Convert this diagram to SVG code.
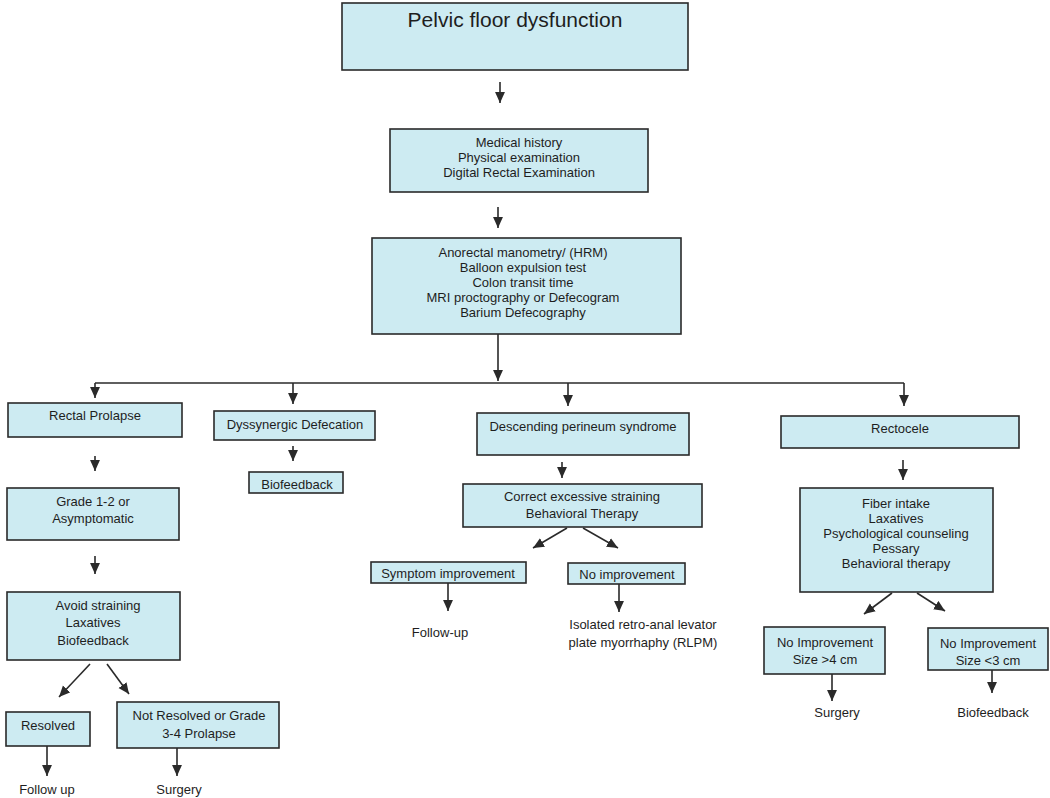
<svg xmlns="http://www.w3.org/2000/svg" width="1050" height="798" viewBox="0 0 1050 798">
<style>
.b{fill:#cdebf2;stroke:#2a2a2a;stroke-width:1.6}
text{font-family:"Liberation Sans",Arial,sans-serif;font-size:13px;fill:#1e1e1e;text-anchor:middle}
.c{fill:none;stroke:#2a2a2a;stroke-width:1.6}
.t{font-size:21px}
</style>
<defs>
<marker id="ah" viewBox="0 0 10 10" refX="10" refY="5" markerWidth="11" markerHeight="11" orient="auto" markerUnits="userSpaceOnUse"><path d="M0,0.5 L10,5 L0,9.5 z" fill="#2a2a2a"/></marker>
</defs>
<rect width="1050" height="798" fill="#ffffff"/>
<g id="connectors">
<path class="c" marker-end="url(#ah)" d="M500,82 L500,103"/>
<path class="c" marker-end="url(#ah)" d="M498,207 L498,228"/>
<path class="c" marker-end="url(#ah)" d="M498,334 L498,381"/>
<path class="c" d="M95,383 L904,383"/>
<path class="c" marker-end="url(#ah)" d="M95,383 L95,398"/>
<path class="c" marker-end="url(#ah)" d="M293,383 L293,404"/>
<path class="c" marker-end="url(#ah)" d="M568,383 L568,406"/>
<path class="c" marker-end="url(#ah)" d="M904,383 L904,406"/>
<path class="c" marker-end="url(#ah)" d="M95,456 L95,471"/>
<path class="c" marker-end="url(#ah)" d="M95,556 L95,574"/>
<path class="c" marker-end="url(#ah)" d="M293,446 L293,461"/>
<path class="c" marker-end="url(#ah)" d="M90,664 L59,697"/>
<path class="c" marker-end="url(#ah)" d="M107,664 L129,694"/>
<path class="c" marker-end="url(#ah)" d="M47,746 L47,776"/>
<path class="c" marker-end="url(#ah)" d="M177,748 L177,776"/>
<path class="c" marker-end="url(#ah)" d="M562,462 L562,478"/>
<path class="c" marker-end="url(#ah)" d="M567,528 L533,548"/>
<path class="c" marker-end="url(#ah)" d="M583,528 L618,548"/>
<path class="c" marker-end="url(#ah)" d="M448,583 L448,611"/>
<path class="c" marker-end="url(#ah)" d="M619,584 L619,612"/>
<path class="c" marker-end="url(#ah)" d="M903,460 L903,480"/>
<path class="c" marker-end="url(#ah)" d="M892,593 L864,614"/>
<path class="c" marker-end="url(#ah)" d="M917,593 L945,611"/>
<path class="c" marker-end="url(#ah)" d="M832,674 L832,701"/>
<path class="c" marker-end="url(#ah)" d="M992,670 L992,693"/>
</g>
<g id="n-pelvic"><rect class="b" x="342" y="3" width="346" height="67"/><text class="t" x="515" y="27">Pelvic floor dysfunction</text></g>
<g id="n-history"><rect class="b" x="390" y="129" width="258" height="63"/><text x="519" y="147">Medical history</text><text x="519" y="162">Physical examination</text><text x="519" y="177">Digital Rectal Examination</text></g>
<g id="n-tests"><rect class="b" x="372" y="238" width="309" height="96"/><text x="523" y="257">Anorectal manometry/ (HRM)</text><text x="523" y="272">Balloon expulsion test</text><text x="523" y="287">Colon transit time</text><text x="523" y="302">MRI proctography or Defecogram</text><text x="523" y="317">Barium Defecography</text></g>
<g id="n-rectal"><rect class="b" x="8" y="403" width="174" height="34"/><text x="95" y="420">Rectal Prolapse</text></g>
<g id="n-dyss"><rect class="b" x="214" y="411" width="161" height="29"/><text x="295" y="429">Dyssynergic Defecation</text></g>
<g id="n-biofb1"><rect class="b" x="249" y="472" width="94" height="21"/><text x="297" y="489">Biofeedback</text></g>
<g id="n-grade"><rect class="b" x="7" y="488" width="172" height="52"/><text x="93" y="506">Grade 1-2  or</text><text x="93" y="523">Asymptomatic</text></g>
<g id="n-avoid"><rect class="b" x="7" y="592" width="173" height="68"/><text x="98" y="610">Avoid straining</text><text x="93" y="627">Laxatives</text><text x="93" y="645">Biofeedback</text></g>
<g id="n-resolved"><rect class="b" x="6" y="712" width="84" height="34"/><text x="48" y="730">Resolved</text></g>
<g id="n-notres"><rect class="b" x="117" y="702" width="162" height="46"/><text x="199" y="720">Not Resolved or Grade</text><text x="199" y="738">3-4 Prolapse</text></g>
<g id="n-followup1"><text x="47" y="794">Follow up</text></g>
<g id="n-surgery1"><text x="179" y="794">Surgery</text></g>
<g id="n-desc"><rect class="b" x="477" y="413" width="212" height="42"/><text x="583" y="431">Descending perineum syndrome</text></g>
<g id="n-correct"><rect class="b" x="463" y="484" width="239" height="43"/><text x="582" y="501">Correct excessive straining</text><text x="582" y="518">Behavioral Therapy</text></g>
<g id="n-symptom"><rect class="b" x="371" y="562" width="155" height="21"/><text x="448" y="578">Symptom improvement</text></g>
<g id="n-noimp"><rect class="b" x="568" y="563" width="117" height="21"/><text x="627" y="579">No improvement</text></g>
<g id="n-followup2"><text x="440" y="637">Follow-up</text></g>
<g id="n-isolated"><text x="643" y="629">Isolated retro-anal levator</text><text x="643" y="647">plate myorrhaphy (RLPM)</text></g>
<g id="n-rectocele"><rect class="b" x="781" y="416" width="238" height="32"/><text x="900" y="433">Rectocele</text></g>
<g id="n-fiber"><rect class="b" x="800" y="488" width="193" height="104"/><text x="896" y="508">Fiber intake</text><text x="896" y="523">Laxatives</text><text x="896" y="538">Psychological counseling</text><text x="896" y="553">Pessary</text><text x="896" y="568">Behavioral therapy</text></g>
<g id="n-noimp4"><rect class="b" x="764" y="627" width="121" height="47"/><text x="825" y="647">No Improvement</text><text x="825" y="664">Size &gt;4 cm</text></g>
<g id="n-noimp3"><rect class="b" x="928" y="628" width="120" height="42"/><text x="988" y="648">No Improvement</text><text x="988" y="665">Size &lt;3 cm</text></g>
<g id="n-surgery2"><text x="837" y="717">Surgery</text></g>
<g id="n-biofb2"><text x="993" y="717">Biofeedback</text></g>
</svg>
